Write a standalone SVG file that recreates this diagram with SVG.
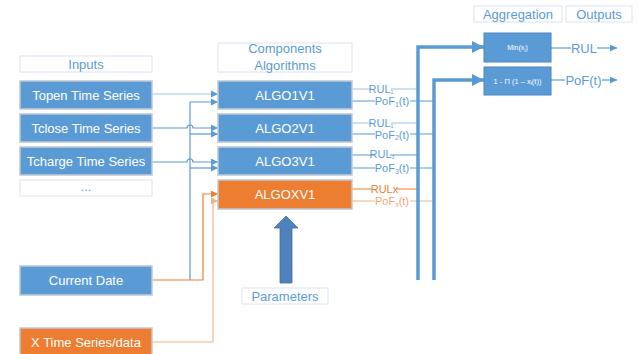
<svg xmlns="http://www.w3.org/2000/svg" width="638" height="354" viewBox="0 0 638 354">
<style>
text{font-family:"Liberation Sans","Open Sans",sans-serif}
.box{fill:#5b9bd5;stroke:#c0c8d2;stroke-width:1.5}
.obox{fill:#ed7d31;stroke:#c0c8d2;stroke-width:1.5}
.abox{fill:#5b9bd5;stroke:#4a86c0;stroke-width:1}
.lbl{fill:#fff;stroke:#dae3f3;stroke-width:1}
.bt{fill:#fff;font-size:13px;text-anchor:middle}
.lt{fill:#5b9bd5;font-size:13px;text-anchor:middle}
.st{fill:#5b9bd5;font-size:11px;text-anchor:middle}
.sto{fill:#ed7d31;font-size:11px;text-anchor:middle}
.stlo{fill:#f4a46e;font-size:11px;text-anchor:middle}
.c{fill:none;stroke:#5b9bd5;stroke-width:1.2}
.cl{fill:none;stroke:#9dc3e6;stroke-width:1.2}
.co{fill:none;stroke:#ed7d31;stroke-width:1.2}
.clo{fill:none;stroke:#f4b183;stroke-width:1.2}
.thick{fill:none;stroke:#5b9bd5;stroke-width:3.5}
</style>
<defs>
<marker id="ab" markerUnits="userSpaceOnUse" markerWidth="7" markerHeight="7" refX="7" refY="3.5" orient="auto"><path d="M0,0L7,3.5L0,7z" fill="#5b9bd5"/></marker>
<marker id="ao" markerUnits="userSpaceOnUse" markerWidth="7" markerHeight="7" refX="7" refY="3.5" orient="auto"><path d="M0,0L7,3.5L0,7z" fill="#ed7d31"/></marker>
<marker id="alo" markerUnits="userSpaceOnUse" markerWidth="7" markerHeight="7" refX="7" refY="3.5" orient="auto"><path d="M0,0L7,3.5L0,7z" fill="#f4b183"/></marker>
<marker id="abig" markerUnits="userSpaceOnUse" markerWidth="12" markerHeight="12" refX="12" refY="6" orient="auto"><path d="M0,0L12,6L0,12z" fill="#5b9bd5"/></marker>
</defs>

<g id="connectors">
<path class="cl" d="M152,94H218" marker-end="url(#ab)"/>
<path class="c" d="M152,128H187A3,3 0 0 1 193,128H218" marker-end="url(#ab)"/>
<path class="c" d="M152,162H187A3,3 0 0 1 193,162H218" marker-end="url(#ab)"/>
<path class="c" d="M190,280V102H218" marker-end="url(#ab)"/>
<path class="c" d="M190,134H218" marker-end="url(#ab)"/>
<path class="c" d="M190,168H218" marker-end="url(#ab)"/>
<path class="co" d="M152,280H203V194H218" marker-end="url(#ao)"/>
<path class="clo" d="M152,342H213V201H218" marker-end="url(#alo)"/>

<path class="cl" d="M352,89H372M391,89H418"/>
<path class="c" d="M352,101H375M410,101H434"/>
<path class="cl" d="M352,123H372M391,123H418"/>
<path class="c" d="M352,134H375M410,134H434"/>
<path class="c" d="M352,155H374M390,155H418"/>
<path class="c" d="M352,168H375M410,168H434"/>
<path class="co" d="M352,189H372M397,189H418"/>
<path class="clo" d="M352,201H375M410,201H434"/>

<path class="thick" d="M418,280V47H484" marker-end="url(#abig)"/>
<path class="thick" d="M434,280V80H484" marker-end="url(#abig)"/>

<path class="c" d="M551,48H571"/>
<path class="c" d="M597,48H617" marker-end="url(#ab)"/>
<path class="c" d="M551,80H565"/>
<path class="c" d="M602,80H617" marker-end="url(#ab)"/>

<path d="M286,216L298,228H292V283H280V228H274Z" fill="#4f81bd" stroke="#41719c" stroke-width="0.8"/>
</g>

<g id="inputs-label"><rect class="lbl" x="20" y="56" width="132" height="16"/><text class="lt" x="86" y="68.5">Inputs</text></g>
<g id="topen"><rect class="box" x="20" y="81" width="132" height="28"/><text class="bt" x="86" y="99.5">Topen Time Series</text></g>
<g id="tclose"><rect class="box" x="20" y="114" width="132" height="28"/><text class="bt" x="86" y="132.5">Tclose Time Series</text></g>
<g id="tcharge"><rect class="box" x="20" y="147" width="132" height="28"/><text class="bt" x="86" y="165.5">Tcharge Time Series</text></g>
<g id="more"><rect class="lbl" x="20" y="180" width="132" height="16"/><text class="lt" x="86" y="191">...</text></g>
<g id="current-date"><rect class="box" x="20" y="266" width="132" height="29"/><text class="bt" x="86" y="285">Current Date</text></g>
<g id="x-series"><rect class="obox" x="20" y="328" width="132" height="28"/><text class="bt" x="86" y="346.5">X Time Series/data</text></g>

<g id="components-label"><rect class="lbl" x="218" y="43" width="134" height="29"/><text class="lt" x="285" y="53">Components</text><text class="lt" x="285" y="69.5">Algorithms</text></g>
<g id="algo1"><rect class="box" x="218" y="81" width="134" height="28"/><text class="bt" x="285" y="99.5">ALGO1V1</text></g>
<g id="algo2"><rect class="box" x="218" y="114" width="134" height="28"/><text class="bt" x="285" y="132.5">ALGO2V1</text></g>
<g id="algo3"><rect class="box" x="218" y="147" width="134" height="28"/><text class="bt" x="285" y="165.5">ALGO3V1</text></g>
<g id="algox"><rect class="obox" x="218" y="180" width="134" height="29"/><text class="bt" x="285" y="199">ALGOXV1</text></g>
<g id="parameters"><rect class="lbl" x="242" y="288" width="86" height="16"/><text class="lt" x="285" y="300.5">Parameters</text></g>

<g id="labels">
<text class="st" x="381" y="92.5">RUL<tspan font-size="5" dy="1">1</tspan></text>
<text class="st" x="392" y="105">PoF<tspan font-size="7" dy="1.5">1</tspan><tspan dy="-1.5">(t)</tspan></text>
<text class="st" x="381" y="126.5">RUL<tspan font-size="5" dy="1">1</tspan></text>
<text class="st" x="392" y="138.5">PoF<tspan font-size="7" dy="1.5">2</tspan><tspan dy="-1.5">(t)</tspan></text>
<text class="st" x="382" y="158" font-size="10">RUL<tspan font-size="5" dy="1">3</tspan></text>
<text class="st" x="392" y="172">PoF<tspan font-size="7" dy="1.5">3</tspan><tspan dy="-1.5">(t)</tspan></text>
<text class="sto" x="384.5" y="193">RULx</text>
<text class="stlo" x="392" y="205">PoF<tspan font-size="7" dy="1.5">x</tspan><tspan dy="-1.5">(t)</tspan></text>
</g>

<g id="aggregation-label"><rect class="lbl" x="474" y="6" width="88" height="16"/><text class="lt" x="518" y="18.5">Aggregation</text></g>
<g id="outputs-label"><rect class="lbl" x="566" y="6" width="66" height="16"/><text class="lt" x="599" y="18.5">Outputs</text></g>
<g id="min"><rect class="abox" x="484" y="33" width="67" height="29"/><text x="517.5" y="50" fill="#fff" font-size="7" text-anchor="middle">Min(x<tspan font-size="5" dy="1.5">i</tspan><tspan dy="-1.5">)</tspan></text></g>
<g id="prod"><rect class="abox" x="484" y="67" width="67" height="28"/><text x="517.5" y="83.5" fill="#fff" font-size="7.5" text-anchor="middle">1 -  Π (1 – x<tspan font-size="5" dy="1.5">i</tspan><tspan dy="-1.5">(t))</tspan></text></g>
<g id="outputs">
<text class="lt" x="584" y="52.5">RUL</text>
<text class="lt" x="583.5" y="84.5">PoF(t)</text>
</g>
</svg>
